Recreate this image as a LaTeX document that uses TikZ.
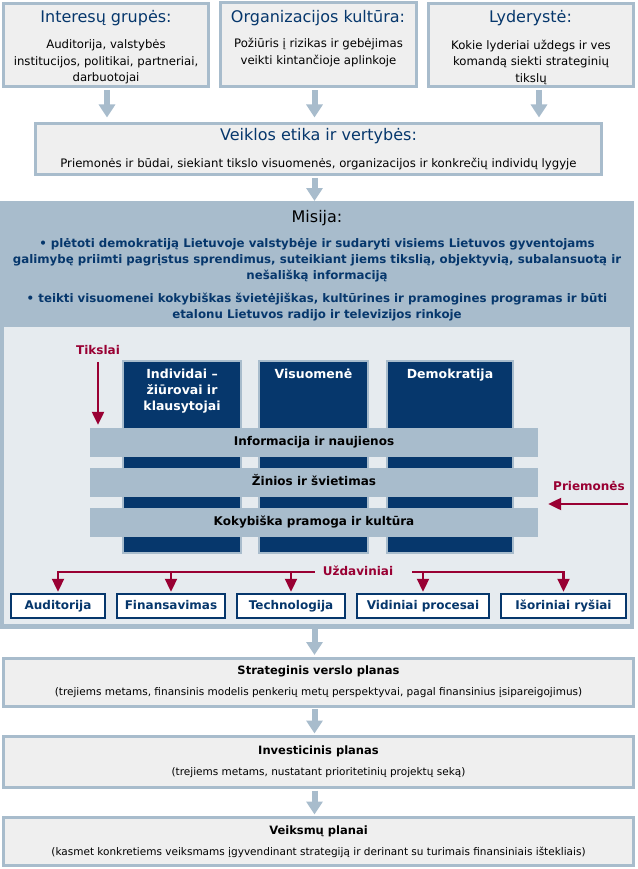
\documentclass[tikz,border=0pt]{standalone}
\usepackage{fontspec}
\setmainfont{DejaVu Sans}
\usetikzlibrary{arrows.meta,positioning}
\definecolor{plienas}{HTML}{A8BCCC}
\definecolor{skydas}{HTML}{E6EBEF}
\definecolor{laukas}{HTML}{EFEFEF}
\definecolor{melyna}{HTML}{06376C}
\definecolor{raudona}{HTML}{990033}

\begin{document}
\begin{tikzpicture}[x=1pt,y=-1pt,
  remas/.style={draw=plienas,line width=3pt,fill=laukas,inner sep=0pt},
  antraste/.style={text=melyna,inner sep=0pt,font=\fontsize{16}{18}\selectfont},
  tekstas/.style={align=center,inner sep=0pt,font=\fontsize{11.7}{16.5}\selectfont},
  storas/.style={draw=plienas,line width=6pt,-{Triangle[width=16pt,length=13pt]}},
  stulpelis/.style={draw=plienas,line width=2pt,fill=melyna,inner sep=0pt,anchor=north west,minimum height=192},
  stultekstas/.style={text=white,align=center,inner sep=0pt,anchor=north,font=\bfseries\fontsize{12.5}{16}\selectfont},
  juosta/.style={fill=plienas,minimum width=448,minimum height=29,inner sep=0pt,text height=9pt,text depth=2.5pt,font=\bfseries\fontsize{12}{14}\selectfont},
  raudonas/.style={text=raudona,inner sep=1pt,text height=9pt,text depth=2.5pt,font=\bfseries\fontsize{12}{14}\selectfont},
  rodykle/.style={draw=raudona,line width=2.3pt,-{Triangle[width=12pt,length=13pt]}},
  dezute/.style={draw=melyna,line width=2pt,fill=white,minimum height=24.5,inner sep=0pt,text height=9pt,text depth=2.5pt,text=melyna,font=\bfseries\fontsize{12}{14}\selectfont},
  planas/.style={remas,minimum width=630,align=center,font=\fontsize{10.5}{21}\selectfont}
]
\useasboundingbox (0,0) rectangle (637,869);
\coordinate (asis) at (314.5,0);
% virsutiniai langai
\node[remas,minimum width=205,minimum height=83] (grupes) at (106,45) {};
\node[remas,minimum width=196,minimum height=84] (kultura) at (318.5,45) {};
\node[remas,minimum width=205,minimum height=83] (lyderyste) at (531,45) {};
\node[antraste] (grupesT) at (106,18.5) {Interesų grupės:};
\node[antraste] (kulturaT) at (318,18.5) {Organizacijos kultūra:};
\node[antraste] (lyderysteT) at (530.5,18.5) {Lyderystė:};
\node[tekstas,anchor=north] (grupesB) at (106,39.5) {Auditorija, valstybės\\institucijos, politikai, partneriai,\\darbuotojai};
\node[tekstas,anchor=north] (kulturaB) at (318.5,38) {Požiūris į rizikas ir gebėjimas\\veikti kintančioje aplinkoje};
\node[tekstas,anchor=north] (lyderysteB) at (531,39.5) {Kokie lyderiai uždegs ir ves\\komandą siekti strateginių\\tikslų};
% etika
\node[remas,minimum width=566,minimum height=51] (etika) at (318.5,149) {};
\node[antraste] (etikaT) at (318.5,136.5) {Veiklos etika ir vertybės:};
\node[tekstas] (etikaB) at (318.5,164) {Priemonės ir būdai, siekiant tikslo visuomenės, organizacijos ir konkrečių individų lygyje};
\draw[storas,shorten <=2pt,shorten >=4.5pt] ([xshift=1pt]grupes.south) -- ([xshift=1pt]grupes.south |- etika.north);
\draw[storas,shorten <=2pt,shorten >=4.5pt] (asis |- kultura.south) -- (asis |- etika.north);
\draw[storas,shorten <=2pt,shorten >=4.5pt] ([xshift=8pt]lyderyste.south) -- ([xshift=8pt]lyderyste.south |- etika.north);
% misija
\node[fill=plienas,minimum width=634,minimum height=428,inner sep=0pt,anchor=north west] (misija) at (0,201) {};
\node[fill=skydas,minimum width=626,minimum height=297,inner sep=0pt,anchor=north west] (vidus) at (4,327) {};
\draw[storas,shorten <=2pt] (asis |- etika.south) -- (asis |- misija.north);
\node[inner sep=0pt,font=\fontsize{16}{18}\selectfont] (misijaT) at (317,218) {Misija:};
\node[tekstas,text=melyna,font=\bfseries\fontsize{11.8}{16}\selectfont] (tikslas1) at (317,260)
  {• plėtoti demokratiją Lietuvoje valstybėje ir sudaryti visiems Lietuvos gyventojams\\galimybę priimti pagrįstus sprendimus, suteikiant jiems tikslią, objektyvią, subalansuotą ir\\nešališką informaciją};
\node[tekstas,text=melyna,font=\bfseries\fontsize{11.8}{16}\selectfont] (tikslas2) at (317,307)
  {• teikti visuomenei kokybiškas švietėjiškas, kultūrines ir pramogines programas ir būti\\etalonu Lietuvos radijo ir televizijos rinkoje};
% stulpeliai
\node[stulpelis,minimum width=118] (individai) at (122,360) {};
\node[stulpelis,minimum width=109] (visuomene) at (258,360) {};
\node[stulpelis,minimum width=126] (demokratija) at (386,360) {};
\node[stultekstas] (individaiT) at ([yshift=-8.5pt]individai.north) {Individai –\\žiūrovai ir\\klausytojai};
\node[stultekstas] (visuomeneT) at ([yshift=-8.5pt]visuomene.north) {Visuomenė};
\node[stultekstas] (demokratijaT) at ([yshift=-8.5pt]demokratija.north) {Demokratija};
% juostos
\node[juosta] (informacija) at (314,442.5) {Informacija ir naujienos};
\node[juosta] (zinios) at (314,482.5) {Žinios ir švietimas};
\node[juosta] (pramoga) at (314,522.5) {Kokybiška pramoga ir kultūra};
% tikslai, priemones
\node[raudonas] (tikslai) at (98,351) {Tikslai};
\draw[rodykle,shorten <=4pt,shorten >=3pt] (tikslai) -- (tikslai |- informacija.north);
\node[raudonas] (priemones) at (589,487) {Priemonės};
\coordinate (priemonesP) at (628,504);
\draw[rodykle,shorten >=10pt] (priemonesP) -- (priemonesP -| pramoga.east);
% uzdaviniai
\node[raudonas] (uzdaviniai) at (358,572) {Uždaviniai};
\node[dezute,minimum width=94,anchor=west] (auditorija) at (10,606) {Auditorija};
\node[dezute,minimum width=108,right=10pt of auditorija] (finansavimas) {Finansavimas};
\node[dezute,minimum width=108,right=10pt of finansavimas] (technologija) {Technologija};
\node[dezute,minimum width=132,right=10pt of technologija] (vidiniai) {Vidiniai procesai};
\node[dezute,minimum width=125,right=10pt of vidiniai] (isoriniai) {Išoriniai ryšiai};
\draw[raudona,line width=2.3pt,line cap=rect] ([xshift=-8pt]uzdaviniai.west) -- (auditorija.north |- uzdaviniai.west);
\draw[raudona,line width=2.3pt,line cap=rect] ([xshift=19pt]uzdaviniai.east) -- (isoriniai.north |- uzdaviniai.east);
\foreach \u in {auditorija,finansavimas,technologija,vidiniai,isoriniai}
  \draw[rodykle,shorten >=1pt] (\u.north |- uzdaviniai) -- (\u.north);
% planai
\node[planas,minimum height=48] (strategija) at (318.5,682)
  {{\bfseries\fontsize{11.5}{14}\selectfont Strateginis verslo planas}\\(trejiems metams, finansinis modelis penkerių metų perspektyvai, pagal finansinius įsipareigojimus)};
\node[planas,minimum height=51] (investicijos) at (318.5,762)
  {{\bfseries\fontsize{11.5}{14}\selectfont Investicinis planas}\\(trejiems metams, nustatant prioritetinių projektų seką)};
\node[planas,minimum height=48] (veiksmai) at (318.5,841.5)
  {{\bfseries\fontsize{11.5}{14}\selectfont Veiksmų planai}\\(kasmet konkretiems veiksmams įgyvendinant strategiją ir derinant su turimais finansiniais ištekliais)};
\draw[storas,shorten >=1.5pt] (asis |- misija.south) -- (asis |- strategija.north);
\draw[storas,shorten <=1.5pt,shorten >=1.5pt] (asis |- strategija.south) -- (asis |- investicijos.north);
\draw[storas,shorten <=1.5pt,shorten >=1.5pt] (asis |- investicijos.south) -- (asis |- veiksmai.north);
\end{tikzpicture}
\end{document}
